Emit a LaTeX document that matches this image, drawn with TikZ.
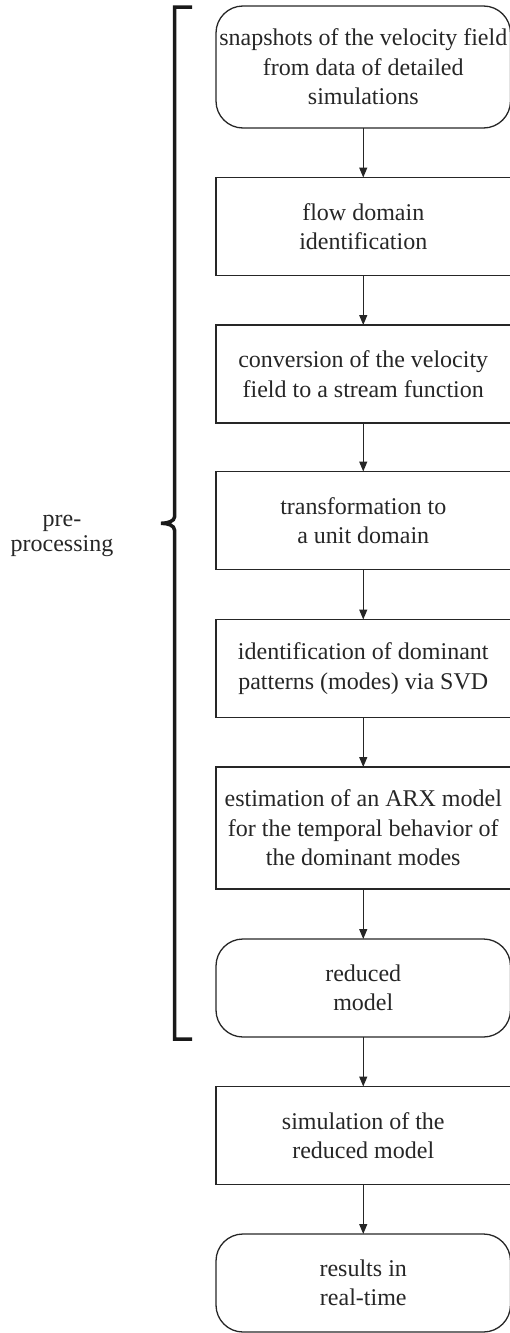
\documentclass[tikz,border=0pt]{standalone}
\usepackage{fontspec}
\setmainfont{Liberation Serif}
\usetikzlibrary{arrows.meta}
\begin{document}
\begin{tikzpicture}[x=1pt,y=-1pt,
  box/.style={draw=black!85, line width=1.3pt, minimum width=294.5pt, minimum height=98pt,
    inner sep=1pt, outer sep=0pt, align=center,
    font=\fontsize{24}{29.5}\selectfont, text=black!85},
  rbox/.style={box, rounded corners=27pt},
  arr/.style={draw=black!85, line width=1.3pt, -{Triangle[length=10pt,width=8pt]}},
  lbl/.style={inner sep=0pt, font=\fontsize{24}{29.5}\selectfont, text=black!85},
  bracket/.style={draw=black!90, line width=3.5pt}]
\useasboundingbox (0,0) rectangle (509,1333);
\node[rbox, minimum height=122pt] (n1) at (363.25,67) {snapshots of the velocity field\\from data of detailed\\simulations};
\node[box] (n2) at (363.25,226.5) {flow domain\\identification};
\node[box] (n3) at (363.25,374) {conversion of the velocity\\field to a stream function};
\node[box] (n4) at (363.25,520.5) {transformation to\\a unit domain};
\node[box] (n5) at (363.25,668.5) {identification of dominant\\patterns (modes) via SVD};
\node[box, minimum height=122pt] (n6) at (363.25,828) {estimation of an ARX model\\for the temporal behavior of\\the dominant modes};
\node[rbox] (n7) at (363.25,988) {reduced\\model};
\node[box] (n8) at (363.25,1135.5) {simulation of the\\reduced model};
\node[rbox] (n9) at (363.25,1283) {results in\\real-time};
\draw[arr] (n1) -- (n2);
\draw[arr] (n2) -- (n3);
\draw[arr] (n3) -- (n4);
\draw[arr] (n4) -- (n5);
\draw[arr] (n5) -- (n6);
\draw[arr] (n6) -- (n7);
\draw[arr] (n7) -- (n8);
\draw[arr] (n8) -- (n9);
\draw[bracket] (192,7) -- (174.5,7) -- (174.5,517)
  .. controls (174.5,521) and (168,523.3) .. (161,523.3)
  .. controls (168,523.3) and (174.5,525.5) .. (174.5,530)
  -- (174.5,1039) -- (192,1039);
\node[lbl, anchor=base] (pre) at (62,526.7) {pre-};
\node[lbl, anchor=base] (proc) at (62,551.7) {processing};
\end{tikzpicture}
\end{document}
